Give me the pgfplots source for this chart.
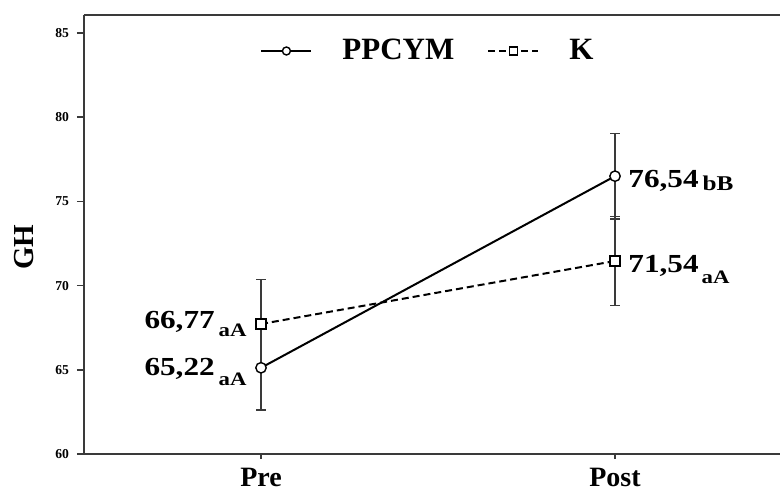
\documentclass[border=0pt]{standalone}
\usepackage{fontspec}
\setmainfont{Liberation Serif}
\newfontfamily\lblfont{Liberation Serif}[FakeStretch=1.2]
\usepackage{pgfplots}
\pgfplotsset{compat=1.18}
\definecolor{axgray}{HTML}{3A3A3A}
\newcommand{\vlab}[5]{{\lblfont\bfseries\fontsize{13}{13}\selectfont #2}\hspace{#4}\raisebox{-#1}{\lblfont\bfseries\fontsize{#5}{#5}\selectfont #3}}

\begin{document}
\begin{tikzpicture}
\begin{axis}[name=ax, scale only axis, width=348pt, height=219.5pt,
  xmin=-0.5, xmax=1.466, ymin=60, ymax=86.07,
  axis lines=left, axis line style={-, axgray, line width=0.8pt},
  xtick={0,1}, xticklabels={Pre,Post},
  ytick={60,65,70,75,80,85},
  tick align=outside, major tick length=3.5pt,
  tick style={axgray, line width=0.8pt},
  xtick style={/pgfplots/major tick length=2.5pt},
  xticklabel style={font=\bfseries\fontsize{14}{14}\selectfont},
  yticklabel style={font=\bfseries\fontsize{6.8}{7}\selectfont, xshift=-0.5pt},
  /pgf/number format/assume math mode=true,
  ylabel={GH},
  ylabel style={at={(axis description cs:0,0.4715)}, anchor=center, yshift=30pt, font=\bfseries\fontsize{14.5}{15}\selectfont},
  clip=false,
  legend columns=2,
  legend style={draw=none, fill=none, at={(0.2529,0.918)}, anchor=west, inner sep=0pt,
    nodes={inner sep=0pt, font=\bfseries\fontsize{15.5}{16}\selectfont},
    /tikz/every odd column/.append style={column sep=15pt},
    /tikz/every even column/.append style={column sep=16.5pt}},
  legend image code/.code={\draw[mark repeat=2, mark phase=2, mark size=2pt] plot coordinates {(0pt,0pt) (12.5pt,0pt) (25pt,0pt)};},
]
\addplot[black, line width=1pt, mark=*, mark size=2.6pt, mark options={fill=white, line width=0.7pt},
  error bars/.cd, y dir=both, y explicit,
  error bar style={axgray, line width=0.8pt, solid},
  error mark options={axgray, mark size=2.3pt, line width=0.8pt, rotate=90}]
  coordinates {(0,65.12) +- (0,2.5) (1,76.5) +- (0,2.53)};
\addlegendentry{PPCYM}
\addplot[black, line width=1pt, dash pattern=on 3.5pt off 2pt, mark=square*, mark size=2.5pt, mark options={solid, fill=white, line width=0.7pt},
  error bars/.cd, y dir=both, y explicit,
  error bar style={axgray, line width=0.8pt, solid},
  error mark options={axgray, mark size=2.3pt, line width=0.8pt, solid, rotate=90}]
  coordinates {(0,67.72) +- (0,2.64) (1,71.46) +- (0,2.65)};
\addlegendentry{K}
\draw[axgray, line width=0.8pt] (rel axis cs:0,1) -- (rel axis cs:1,1);
\node[anchor=base east, inner sep=0pt, xshift=-7pt, yshift=-2pt] at (axis cs:0,67.72) {\vlab{4pt}{66,77}{aA}{2pt}{9.5}};
\node[anchor=base east, inner sep=0pt, xshift=-7pt, yshift=-3.65pt] at (axis cs:0,65.12) {\vlab{5pt}{65,22}{aA}{2pt}{9.5}};
\node[anchor=base west, inner sep=0pt, xshift=6.5pt, yshift=-5.5pt] at (axis cs:1,76.5) {\vlab{1.5pt}{76,54}{bB}{2pt}{10.5}};
\node[anchor=base west, inner sep=0pt, xshift=6.5pt, yshift=-5.5pt] at (axis cs:1,71.46) {\vlab{5.5pt}{71,54}{aA}{1.5pt}{9.5}};
\end{axis}
\pgfresetboundingbox
\useasboundingbox ([shift={(-42pt,-19pt)}]ax.south west) rectangle ([shift={(0pt,7.5pt)}]ax.north east);
\end{tikzpicture}
\end{document}
